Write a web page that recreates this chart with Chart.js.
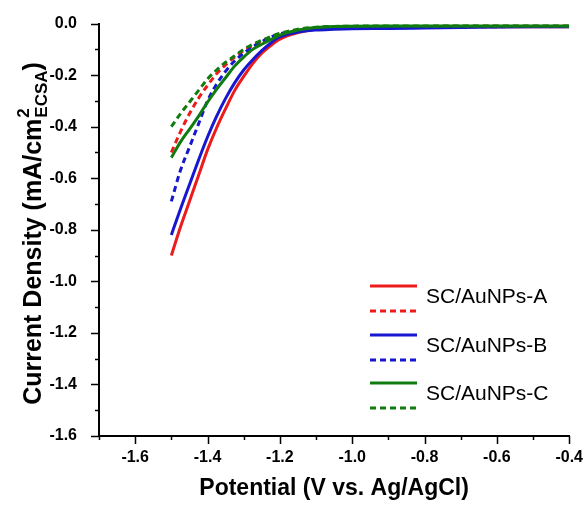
<!DOCTYPE html>
<html>
<head>
<meta charset="utf-8">
<script src="https://cdn.jsdelivr.net/npm/chart.js@4"></script>
<style>
  html, body { margin: 0; padding: 0; background: #fff; }
</style>
</head>
<body>
<canvas id="lsv-chart" width="587" height="506"></canvas>
<script>
// potential (V vs. Ag/AgCl)
const potential = [-1.5, -1.475, -1.45, -1.425, -1.4, -1.375, -1.35, -1.325, -1.3, -1.275, -1.25, -1.225, -1.2,
  -1.15, -1.1, -1.05, -1.0, -0.9, -0.8, -0.7, -0.6, -0.5, -0.4];

// current density (mA/cm2 ECSA)
const solidA = [-0.90, -0.79, -0.69, -0.59, -0.49, -0.405, -0.33, -0.26, -0.205, -0.155, -0.115, -0.085, -0.06,
  -0.035, -0.022, -0.017, -0.015, -0.014, -0.013, -0.013, -0.012, -0.012, -0.012];
const dashA = [-0.50, -0.42, -0.35, -0.29, -0.24, -0.195, -0.16, -0.13, -0.105, -0.085, -0.068, -0.052, -0.04,
  -0.025, -0.016, -0.013, -0.012, -0.011, -0.011, -0.010, -0.010, -0.010, -0.010];
const solidB = [-0.82, -0.72, -0.625, -0.53, -0.44, -0.36, -0.29, -0.23, -0.18, -0.14, -0.105, -0.075, -0.052,
  -0.033, -0.025, -0.022, -0.020, -0.019, -0.017, -0.015, -0.013, -0.012, -0.012];
const dashB = [-0.69, -0.57, -0.48, -0.39, -0.30, -0.235, -0.185, -0.145, -0.115, -0.09, -0.07, -0.052, -0.04,
  -0.028, -0.022, -0.019, -0.018, -0.016, -0.015, -0.013, -0.012, -0.011, -0.011];
const solidC = [-0.52, -0.46, -0.41, -0.36, -0.305, -0.255, -0.21, -0.165, -0.13, -0.10, -0.08, -0.062, -0.045,
  -0.025, -0.015, -0.011, -0.010, -0.009, -0.009, -0.009, -0.009, -0.009, -0.009];
const dashC = [-0.40, -0.35, -0.305, -0.26, -0.215, -0.18, -0.15, -0.125, -0.10, -0.08, -0.065, -0.05, -0.038,
  -0.022, -0.014, -0.011, -0.010, -0.009, -0.009, -0.009, -0.009, -0.009, -0.009];

const sampleNames = ['SC/AuNPs-A', 'SC/AuNPs-B', 'SC/AuNPs-C'];
const xTicks = [-1.6, -1.4, -1.2, -1.0, -0.8, -0.6, -0.4];
const yTicks = [0.0, -0.2, -0.4, -0.6, -0.8, -1.0, -1.2, -1.4, -1.6];

const RED = '#ec1c1c';
const BLUE = '#1717d0';
const GREEN = '#107c10';
const DASH = [6, 4];

function pts(values) {
  return potential.map((p, i) => ({ x: p, y: values[i] }));
}

function series(values, color, dashed, order) {
  return {
    data: pts(values),
    borderColor: color,
    backgroundColor: color,
    borderWidth: 3,
    borderDash: dashed ? DASH : [],
    pointRadius: 0,
    showLine: true,
    cubicInterpolationMode: 'monotone',
    order: order
  };
}

const datasets = [
  series(solidC, GREEN, false, 0),
  series(dashC, GREEN, true, 1),
  series(solidB, BLUE, false, 2),
  series(dashB, BLUE, true, 3),
  series(solidA, RED, false, 4),
  series(dashA, RED, true, 5)
];

// origin-style ticks, y title with super/subscript, and the legend
const extras = {
  id: 'extras',
  afterDraw(chart) {
    const { ctx, scales: { x, y }, chartArea } = chart;
    ctx.save();
    ctx.strokeStyle = '#000';
    ctx.lineWidth = 1.5;
    for (let i = 0; i <= 13; i++) {
      const v = -1.7 + i * 0.1;
      const px = Math.round(x.getPixelForValue(v)) + 0.5;
      const len = i % 2 === 1 ? 8 : 4;
      ctx.beginPath();
      ctx.moveTo(px, chartArea.bottom);
      ctx.lineTo(px, chartArea.bottom + len);
      ctx.stroke();
    }
    for (let i = 0; i <= 16; i++) {
      const v = -1.6 + i * 0.1;
      const py = Math.round(y.getPixelForValue(v)) + 0.5;
      const len = i % 2 === 0 ? 8 : 4;
      ctx.beginPath();
      ctx.moveTo(chartArea.left, py);
      ctx.lineTo(chartArea.left - len, py);
      ctx.stroke();
    }

    // y title
    ctx.fillStyle = '#000';
    ctx.translate(41, 234);
    ctx.rotate(-Math.PI / 2);
    const bigFont = 'bold 25px "Liberation Sans", Arial, sans-serif';
    const smallFont = 'bold 17px "Liberation Sans", Arial, sans-serif';
    const main = 'Current Density (mA/cm';
    ctx.font = bigFont;
    const wMain = ctx.measureText(main).width;
    const wClose = ctx.measureText(')').width;
    ctx.font = smallFont;
    const wSub = ctx.measureText('ECSA').width;
    const x0 = -(wMain + wSub + wClose) / 2;
    ctx.textBaseline = 'alphabetic';
    ctx.font = bigFont;
    ctx.fillText(main, x0, 0);
    ctx.fillText(')', x0 + wMain + wSub + 1, 0);
    ctx.font = smallFont;
    ctx.fillText('2', x0 + wMain + 1, -12);
    ctx.fillText('ECSA', x0 + wMain + 1, 6);
    ctx.restore();

    // legend
    ctx.save();
    const colors = [RED, BLUE, GREEN];
    const rows = [286, 335, 383];
    ctx.lineWidth = 3;
    ctx.font = '21px "Liberation Sans", Arial, sans-serif';
    ctx.fillStyle = '#000';
    ctx.textBaseline = 'middle';
    sampleNames.forEach((name, i) => {
      const ys = rows[i];
      ctx.strokeStyle = colors[i];
      ctx.setLineDash([]);
      ctx.beginPath();
      ctx.moveTo(370, ys);
      ctx.lineTo(417, ys);
      ctx.stroke();
      ctx.setLineDash(DASH);
      ctx.beginPath();
      ctx.moveTo(370, ys + 25);
      ctx.lineTo(417, ys + 25);
      ctx.stroke();
      ctx.fillText(name, 426, ys + 11);
    });
    ctx.restore();
  }
};

new Chart(document.getElementById('lsv-chart'), {
  type: 'scatter',
  data: { datasets },
  options: {
    responsive: false,
    animation: false,
    devicePixelRatio: 1,
    layout: { padding: { left: 0, top: 22, right: 6, bottom: 0 } },
    plugins: {
      legend: { display: false },
      tooltip: { enabled: false }
    },
    scales: {
      x: {
        type: 'linear',
        min: -1.7,
        max: -0.4,
        afterBuildTicks: s => { s.ticks = xTicks.map(v => ({ value: v })); },
        afterFit: s => { s.height = 70; },
        grid: { display: false },
        border: { display: true, color: '#000', width: 2 },
        ticks: {
          padding: 4,
          color: '#000',
          font: { family: '"Liberation Sans", Arial, sans-serif', size: 16, weight: 'bold' },
          callback: v => v.toFixed(1)
        },
        title: {
          display: true,
          text: 'Potential (V vs. Ag/AgCl)',
          color: '#000',
          font: { family: '"Liberation Sans", Arial, sans-serif', size: 23, weight: 'bold' },
          padding: { top: 10 }
        }
      },
      y: {
        type: 'linear',
        min: -1.6,
        max: 0,
        afterBuildTicks: s => { s.ticks = yTicks.map(v => ({ value: v })); },
        afterFit: s => { s.width = 99; },
        grid: { display: false },
        border: { display: true, color: '#000', width: 2 },
        ticks: {
          padding: 14,
          color: '#000',
          font: { family: '"Liberation Sans", Arial, sans-serif', size: 16, weight: 'bold' },
          callback: v => v.toFixed(1)
        }
      }
    }
  },
  plugins: [extras]
});
</script>
</body>
</html>
